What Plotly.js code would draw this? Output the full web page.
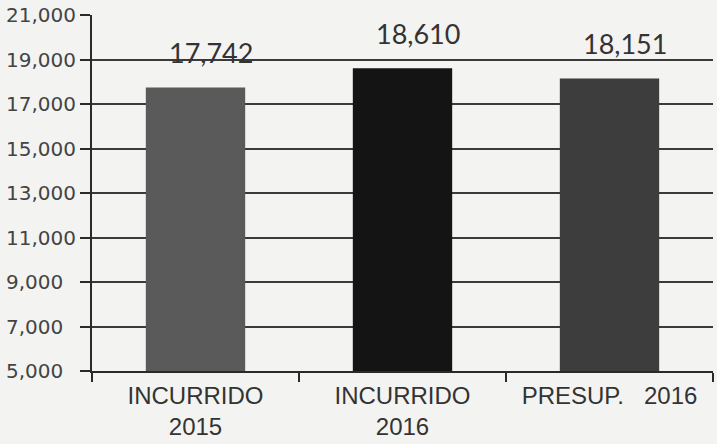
<!DOCTYPE html>
<html>
<head>
<meta charset="utf-8">
<script src="https://cdn.plot.ly/plotly-3.0.1.min.js"></script>
<style>
  html, body { margin: 0; padding: 0; background: #f3f3f1; }
  #chart { width: 717px; height: 444px; }
</style>
</head>
<body>
<div id="chart"></div>
<script>
const categories = ["INCURRIDO<br>2015", "INCURRIDO<br>2016", "PRESUP.\u00a0\u00a0\u00a02016"];
const values = [17742, 18610, 18151];
const barColors = ["#5a5a5a", "#141414", "#3d3d3d"];
const tickVals = [5000, 7000, 9000, 11000, 13000, 15000, 17000, 19000, 21000];
const tickText = ["5,000\u2007", "7,000\u2007", "9,000\u2007", "11,000", "13,000", "15,000", "17,000", "19,000", "21,000"];

const trace = {
  x: categories,
  y: values,
  type: 'bar',
  marker: { color: barColors, line: { width: 0 } },
  hoverinfo: 'none'
};

// value labels sit a bit right of the bar centre, as in the source
const labels = categories.map((c, i) => ({
  x: c,
  y: values[i],
  text: values[i].toLocaleString('en-US'),
  showarrow: false,
  xanchor: 'center',
  yanchor: 'bottom',
  xshift: 15,
  yshift: 16,
  font: { family: 'Lato, sans-serif', size: 27, color: '#333333' }
}));

const layout = {
  width: 717,
  height: 444,
  margin: { l: 92, r: 4, t: 15, b: 73 },
  paper_bgcolor: '#f3f3f1',
  plot_bgcolor: '#f3f3f1',
  showlegend: false,
  bargap: 0.52,
  annotations: labels,
  xaxis: {
    type: 'category',
    range: [-0.5, 2.5],
    showline: true,
    linecolor: '#2a2a2a',
    linewidth: 2,
    ticks: 'outside',
    tickson: 'boundaries',
    ticklen: 9,
    tickwidth: 2,
    tickcolor: '#2a2a2a',
    ticklabelstandoff: 2,
    showgrid: false,
    tickfont: { family: '"Liberation Sans", Arial, sans-serif', size: 24, color: '#333333' },
    fixedrange: true
  },
  yaxis: {
    range: [5000, 21000],
    tickvals: tickVals,
    ticktext: tickText,
    showline: true,
    linecolor: '#2a2a2a',
    linewidth: 2,
    ticks: 'outside',
    ticklen: 10,
    tickwidth: 2,
    tickcolor: '#2a2a2a',
    showgrid: true,
    gridcolor: '#3a3a3a',
    gridwidth: 2,
    zeroline: false,
    tickfont: { family: '"DejaVu Sans", sans-serif', size: 20, color: '#444444' },
    fixedrange: true
  }
};

Plotly.newPlot(document.getElementById('chart'), [trace], layout, { staticPlot: true });
</script>
</body>
</html>
